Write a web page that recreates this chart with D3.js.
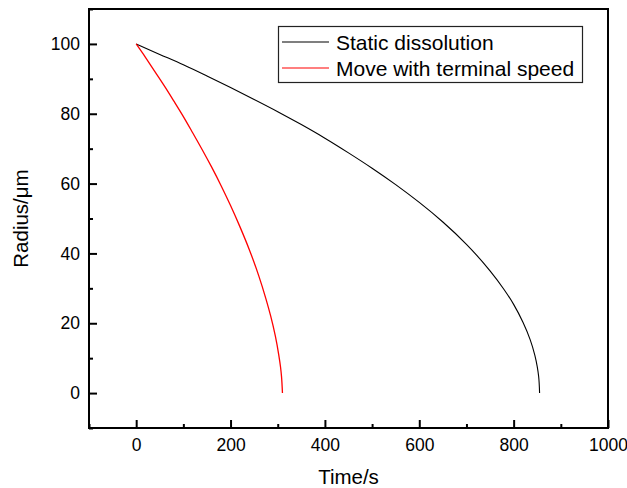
<!DOCTYPE html>
<html>
<head>
<meta charset="utf-8">
<script src="https://cdn.jsdelivr.net/npm/d3@7"></script>
<style>
  body { margin: 0; background: #fff; }
  text { font-family: "Liberation Sans", Arial, sans-serif; fill: #000; }
</style>
</head>
<body>
<div id="chart-area"></div>
<script>
// Data
// ****
const staticTime = [0, 50, 100, 150, 200, 250, 300, 350, 400, 450, 500, 550, 600, 650, 700, 750, 780, 800, 820, 835, 845, 850, 853, 855]
const staticRadius = [100, 97.0, 94.0, 90.8, 87.5, 84.1, 80.6, 76.9, 73.0, 68.8, 64.4, 59.7, 54.6, 49.0, 42.6, 35.0, 29.6, 25.4, 20.2, 15.3, 10.8, 7.6, 4.8, 0]

const moveTime = [0, 20, 40, 60, 80, 100, 120, 140, 160, 180, 200, 220, 240, 260, 275, 285, 295, 302, 306, 308, 310]
const moveRadius = [100, 96.1, 92.0, 87.9, 83.6, 79.2, 74.5, 69.7, 64.7, 59.4, 53.7, 47.6, 41.0, 33.5, 27.0, 22.1, 16.3, 11.1, 7.4, 4.8, 0]

const seriesNames = ["Static dissolution", "Move with terminal speed"]
const seriesColors = ["#000000", "#ff0000"]

const xMajor = [0, 200, 400, 600, 800, 1000]
const xMinor = [-100, 100, 300, 500, 700, 900]
const yMajor = [0, 20, 40, 60, 80, 100]
const yMinor = [-10, 10, 30, 50, 70, 90, 110]

// Config
// ******
const W = 627, H = 488
const margin = {top: 9, right: 19, bottom: 60, left: 89}
const width = W - margin.left - margin.right
const height = H - margin.top - margin.bottom

const svg = d3.select("#chart-area")
  .append("svg")
    .attr("width", W)
    .attr("height", H)

const g = svg.append("g")
  .attr("transform", "translate(" + margin.left + ", " + margin.top + ")")

const x = d3.scaleLinear().domain([-100, 1000]).range([0, width])
const y = d3.scaleLinear().domain([-10, 110]).range([height, 0])

// Axes
// ****
g.append("g")
  .attr("transform", "translate(0, " + height + ")")
  .call(d3.axisBottom(x).tickValues(xMajor).tickFormat(d3.format("d")).tickSize(-8).tickPadding(11))
g.append("g")
  .attr("transform", "translate(0, " + height + ")")
  .call(d3.axisBottom(x).tickValues(xMinor).tickSize(-4).tickFormat(""))

g.append("g")
  .call(d3.axisLeft(y).tickValues(yMajor).tickFormat(d3.format("d")).tickSize(-8).tickPadding(9))
g.append("g")
  .call(d3.axisLeft(y).tickValues(yMinor).tickSize(-4).tickFormat(""))

g.selectAll(".domain").remove()
g.selectAll(".tick line").attr("stroke", "#000").attr("stroke-width", 2)
g.selectAll(".tick text").attr("font-size", "17.5px").attr("font-family", "Liberation Sans, Arial, sans-serif").attr("fill", "#000")

// Frame
g.append("rect")
  .attr("x", 0).attr("y", 0)
  .attr("width", width).attr("height", height)
  .attr("fill", "none")
  .attr("stroke", "#000")
  .attr("stroke-width", 2)

// Lines
// *****
const line = d3.line()
  .x(d => x(d[0]))
  .y(d => y(d[1]))
  .curve(d3.curveMonotoneY)

const series = [
  d3.zip(staticTime, staticRadius),
  d3.zip(moveTime, moveRadius)
]

series.forEach((s, i) => {
  g.append("path")
    .datum(s)
    .attr("fill", "none")
    .attr("stroke", seriesColors[i])
    .attr("stroke-width", i === 0 ? 1.1 : 1.3)
    .attr("d", line)
})

// Labels
// ******
svg.append("text")
  .attr("x", margin.left + width / 2)
  .attr("y", 484)
  .attr("text-anchor", "middle")
  .attr("font-size", "20.5px")
  .text("Time/s")

svg.append("text")
  .attr("transform", "translate(28, " + (margin.top + height / 2) + ") rotate(-90)")
  .attr("text-anchor", "middle")
  .attr("font-size", "20.5px")
  .text("Radius/μm")

// Legend
// ******
const legend = svg.append("g").attr("transform", "translate(278, 26)")
legend.append("rect")
  .attr("x", 0.5).attr("y", 0.5)
  .attr("width", 304).attr("height", 56)
  .attr("fill", "#fff")
  .attr("stroke", "#222")
  .attr("stroke-width", 1.2)

seriesNames.forEach((name, i) => {
  const ly = 16 + i * 26
  legend.append("line")
    .attr("x1", 4).attr("x2", 51)
    .attr("y1", ly).attr("y2", ly)
    .attr("stroke", seriesColors[i])
    .attr("stroke-width", 1.2)
  legend.append("text")
    .attr("x", 58)
    .attr("y", ly + 7.5)
    .attr("font-size", "21px")
    .text(name)
})
</script>
</body>
</html>
